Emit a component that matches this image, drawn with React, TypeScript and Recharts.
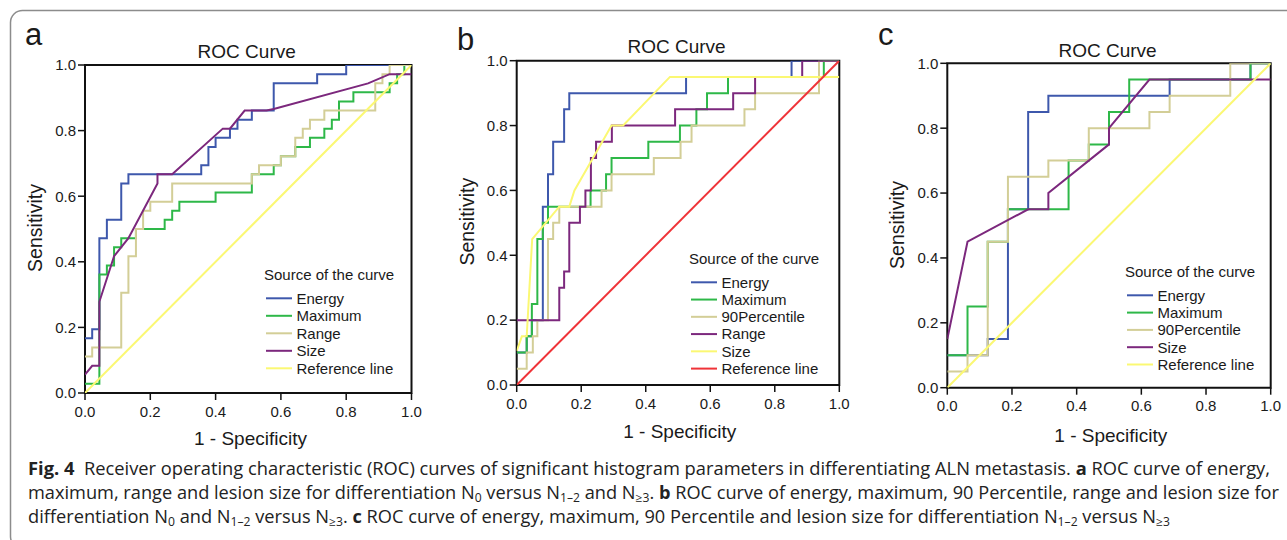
import React from 'react';
import { LineChart, Line, XAxis, YAxis, ReferenceArea, Legend } from 'recharts';

type P = [number, number][];

// ---------- Panel a ----------
const aEnergy: P = [[0,0.167],[0.022,0.167],[0.022,0.194],[0.044,0.194],[0.044,0.472],[0.067,0.472],[0.067,0.528],[0.111,0.528],[0.111,0.639],[0.133,0.639],[0.133,0.667],[0.356,0.667],[0.356,0.694],[0.378,0.694],[0.378,0.75],[0.4,0.75],[0.4,0.778],[0.444,0.778],[0.444,0.806],[0.467,0.806],[0.467,0.833],[0.511,0.833],[0.511,0.861],[0.578,0.861],[0.578,0.944],[0.711,0.944],[0.711,0.972],[0.8,0.972],[0.8,1],[1,1]];
const aMaximum: P = [[0,0.028],[0.044,0.028],[0.044,0.361],[0.067,0.361],[0.067,0.389],[0.089,0.389],[0.089,0.444],[0.111,0.444],[0.111,0.472],[0.156,0.472],[0.156,0.5],[0.244,0.5],[0.244,0.528],[0.267,0.528],[0.267,0.556],[0.289,0.556],[0.289,0.583],[0.4,0.583],[0.4,0.611],[0.511,0.611],[0.511,0.667],[0.578,0.667],[0.578,0.694],[0.6,0.694],[0.6,0.722],[0.644,0.722],[0.644,0.75],[0.689,0.75],[0.689,0.778],[0.733,0.778],[0.733,0.806],[0.756,0.806],[0.756,0.833],[0.778,0.833],[0.778,0.889],[0.822,0.889],[0.822,0.917],[0.933,0.917],[0.933,0.944],[0.956,0.944],[0.956,0.972],[0.978,0.972],[0.978,1],[1,1]];
const aRange: P = [[0,0.111],[0.022,0.111],[0.022,0.139],[0.111,0.139],[0.111,0.306],[0.133,0.306],[0.133,0.417],[0.156,0.417],[0.156,0.5],[0.178,0.5],[0.178,0.556],[0.2,0.556],[0.2,0.583],[0.267,0.583],[0.267,0.639],[0.511,0.639],[0.511,0.667],[0.533,0.667],[0.533,0.694],[0.6,0.694],[0.6,0.722],[0.644,0.722],[0.644,0.778],[0.667,0.778],[0.667,0.806],[0.689,0.806],[0.689,0.833],[0.733,0.833],[0.733,0.861],[0.889,0.861],[0.889,0.944],[0.911,0.944],[0.911,0.972],[0.933,0.972],[0.933,1],[1,1]];
const aSize: P = [[0,0.056],[0.022,0.083],[0.044,0.083],[0.044,0.278],[0.089,0.417],[0.133,0.472],[0.222,0.639],[0.222,0.667],[0.267,0.667],[0.422,0.806],[0.444,0.806],[0.489,0.861],[0.556,0.861],[0.578,0.866],[0.867,0.944],[0.933,0.972],[1,0.972]];
const aReference: P = [[0,0],[1,1]];

// ---------- Panel b ----------
const bEnergy: P = [[0,0.1],[0.031,0.1],[0.031,0.15],[0.047,0.15],[0.047,0.2],[0.081,0.2],[0.081,0.55],[0.097,0.55],[0.097,0.65],[0.113,0.65],[0.113,0.75],[0.147,0.75],[0.147,0.85],[0.163,0.85],[0.163,0.9],[0.525,0.9],[0.525,0.95],[0.852,0.95],[0.852,1],[1,1]];
const bMaximum: P = [[0,0.1],[0.031,0.1],[0.031,0.15],[0.047,0.15],[0.047,0.25],[0.064,0.25],[0.064,0.45],[0.081,0.45],[0.081,0.5],[0.097,0.5],[0.097,0.55],[0.229,0.55],[0.229,0.6],[0.277,0.6],[0.277,0.65],[0.294,0.65],[0.294,0.7],[0.408,0.7],[0.408,0.75],[0.506,0.75],[0.506,0.8],[0.557,0.8],[0.557,0.85],[0.59,0.85],[0.59,0.9],[0.655,0.9],[0.655,0.95],[0.952,0.95],[0.952,1],[1,1]];
const b90Percentile: P = [[0,0.05],[0.031,0.05],[0.031,0.1],[0.05,0.1],[0.05,0.15],[0.064,0.15],[0.064,0.2],[0.097,0.2],[0.097,0.45],[0.113,0.45],[0.113,0.5],[0.132,0.5],[0.132,0.55],[0.263,0.55],[0.263,0.6],[0.294,0.6],[0.294,0.65],[0.425,0.65],[0.425,0.7],[0.508,0.7],[0.508,0.75],[0.542,0.75],[0.542,0.8],[0.706,0.8],[0.706,0.85],[0.739,0.85],[0.739,0.9],[0.937,0.9],[0.937,1],[1,1]];
const bRange: P = [[0,0.2],[0.132,0.2],[0.132,0.3],[0.147,0.3],[0.147,0.35],[0.163,0.35],[0.163,0.5],[0.196,0.5],[0.196,0.55],[0.213,0.55],[0.213,0.6],[0.23,0.6],[0.23,0.7],[0.246,0.7],[0.246,0.75],[0.295,0.75],[0.295,0.8],[0.491,0.8],[0.491,0.85],[0.671,0.85],[0.671,0.9],[0.739,0.9],[0.739,0.95],[0.885,0.95],[0.885,1],[1,1]];
const bSize: P = [[0,0.105],[0.016,0.15],[0.031,0.15],[0.048,0.45],[0.132,0.55],[0.163,0.55],[0.179,0.6],[0.294,0.8],[0.33,0.8],[0.475,0.95],[1,0.95]];
const bReference: P = [[0,0],[1,1]];

// ---------- Panel c ----------
const cEnergy: P = [[0,0.1],[0.125,0.1],[0.125,0.15],[0.1875,0.15],[0.1875,0.55],[0.25,0.55],[0.25,0.85],[0.3125,0.85],[0.3125,0.9],[0.6875,0.9],[0.6875,0.95],[0.9375,0.95],[0.9375,1],[1,1]];
const cMaximum: P = [[0,0.1],[0.0625,0.1],[0.0625,0.25],[0.125,0.25],[0.125,0.45],[0.1875,0.45],[0.1875,0.55],[0.375,0.55],[0.375,0.7],[0.4375,0.7],[0.4375,0.75],[0.5,0.75],[0.5,0.85],[0.5625,0.85],[0.5625,0.95],[0.9375,0.95],[0.9375,1],[1,1]];
const c90Percentile: P = [[0,0.05],[0.0625,0.05],[0.0625,0.1],[0.125,0.1],[0.125,0.45],[0.1875,0.45],[0.1875,0.65],[0.3125,0.65],[0.3125,0.7],[0.4375,0.7],[0.4375,0.8],[0.625,0.8],[0.625,0.85],[0.6875,0.85],[0.6875,0.9],[0.875,0.9],[0.875,1],[1,1]];
const cSize: P = [[0,0.15],[0.0625,0.45],[0.25,0.55],[0.3125,0.55],[0.3125,0.6],[0.5,0.75],[0.5,0.8],[0.625,0.95],[1,0.95]];
const cReference: P = [[0,0],[1,1]];

const axisTicks = [0, 0.2, 0.4, 0.6, 0.8, 1.0];

const C = {
  blue: '#3E58AC',
  green: '#2EB848',
  tan: '#D3CE97',
  purple: '#7C287D',
  yellow: '#FBF873',
  red: '#EF3338',
};

type Series = { name: string; color: string; points: P };

const seriesA: Series[] = [
  { name: 'Energy', color: C.blue, points: aEnergy },
  { name: 'Maximum', color: C.green, points: aMaximum },
  { name: 'Range', color: C.tan, points: aRange },
  { name: 'Size', color: C.purple, points: aSize },
  { name: 'Reference line', color: C.yellow, points: aReference },
];
const seriesB: Series[] = [
  { name: 'Energy', color: C.blue, points: bEnergy },
  { name: 'Maximum', color: C.green, points: bMaximum },
  { name: '90Percentile', color: C.tan, points: b90Percentile },
  { name: 'Range', color: C.purple, points: bRange },
  { name: 'Size', color: C.yellow, points: bSize },
  { name: 'Reference line', color: C.red, points: bReference },
];
const seriesC: Series[] = [
  { name: 'Energy', color: C.blue, points: cEnergy },
  { name: 'Maximum', color: C.green, points: cMaximum },
  { name: '90Percentile', color: C.tan, points: c90Percentile },
  { name: 'Size', color: C.purple, points: cSize },
  { name: 'Reference line', color: C.yellow, points: cReference },
];

const FONT = "'Liberation Sans', Arial, Helvetica, sans-serif";
const TXT = '#1a1a1a';

function LegendBox({ items, spacing }: { items: Series[]; spacing: number }) {
  return (
    <svg width={180} height={130} style={{ display: 'block', overflow: 'visible' }}>
      <text x={4} y={18} fontSize={15} fontFamily={FONT} fill={TXT}>Source of the curve</text>
      {items.map((it, i) => {
        const y = 36.3 + i * spacing;
        return (
          <g key={it.name}>
            <line x1={6} x2={32} y1={y} y2={y} stroke={it.color} strokeWidth={2} />
            <text x={36.5} y={y + 5.3} fontSize={15} fontFamily={FONT} fill={TXT}>{it.name}</text>
          </g>
        );
      })}
    </svg>
  );
}

type PanelProps = {
  left: number;
  width: number;
  height: number;
  margin: { top: number; right: number; bottom: number; left: number };
  series: Series[];
  legendLeft: number;
  legendTop: number;
  legendSpacing: number;
};

function Panel(p: PanelProps) {
  const tickStyle = { fontSize: 15, fontFamily: FONT, fill: TXT };
  return (
    <div style={{ position: 'absolute', left: p.left, top: 0 }}>
      <LineChart width={p.width} height={p.height} margin={p.margin}>
        <XAxis
          dataKey="x"
          type="number"
          domain={[0, 1]}
          ticks={axisTicks}
          interval={0}
          tickFormatter={(v: number) => v.toFixed(1)}
          tick={tickStyle}
          tickSize={7}
          tickMargin={6}
          tickLine={{ stroke: '#111', strokeWidth: 1.5 }}
          axisLine={false}
          height={30}
          allowDataOverflow
        />
        <YAxis
          dataKey="y"
          type="number"
          domain={[0, 1]}
          ticks={axisTicks}
          interval={0}
          tickFormatter={(v: number) => v.toFixed(1)}
          tick={tickStyle}
          tickSize={7}
          tickMargin={2}
          tickLine={{ stroke: '#111', strokeWidth: 1.5 }}
          axisLine={false}
          width={50}
          allowDataOverflow
        />
        {p.series.map((s) => (
          <Line
            key={s.name}
            name={s.name}
            data={s.points.map(([x, y]) => ({ x, y }))}
            dataKey="y"
            type="linear"
            stroke={s.color}
            strokeWidth={2}
            dot={false}
            activeDot={false}
            isAnimationActive={false}
          />
        ))}
        <ReferenceArea x1={0} x2={1} y1={0} y2={1} fill="none" fillOpacity={0} stroke="#111" strokeWidth={2} ifOverflow="visible" />
        <Legend
          layout="vertical"
          align="center"
          verticalAlign="middle"
          wrapperStyle={{ left: p.legendLeft, top: p.legendTop, width: 180, height: 130 }}
          content={() => <LegendBox items={p.series} spacing={p.legendSpacing} />}
        />
      </LineChart>
    </div>
  );
}

type Seg = { t: string; b?: boolean; sub?: boolean };
const caption1: Seg[] = [
  { t: 'Fig. 4', b: true },
  { t: '\u00a0 Receiver operating characteristic (ROC) curves of significant histogram parameters in differentiating ALN metastasis. ' },
  { t: 'a', b: true },
  { t: ' ROC curve of energy,' },
];
const caption2: Seg[] = [
  { t: 'maximum, range and lesion size for differentiation N' },
  { t: '0', sub: true },
  { t: ' versus N' },
  { t: '1\u20132', sub: true },
  { t: ' and N' },
  { t: '\u22653', sub: true },
  { t: '. ' },
  { t: 'b', b: true },
  { t: ' ROC curve of energy, maximum, 90 Percentile, range and lesion size for' },
];
const caption3: Seg[] = [
  { t: 'differentiation N' },
  { t: '0', sub: true },
  { t: ' and N' },
  { t: '1\u20132', sub: true },
  { t: ' versus N' },
  { t: '\u22653', sub: true },
  { t: '. ' },
  { t: 'c', b: true },
  { t: ' ROC curve of energy, maximum, 90 Percentile and lesion size for differentiation N' },
  { t: '1\u20132', sub: true },
  { t: ' versus N' },
  { t: '\u22653', sub: true },
];

function CaptionLine({ segs, y, len }: { segs: Seg[]; y: number; len: number }) {
  const out: React.ReactNode[] = [];
  let shifted = false;
  segs.forEach((s, i) => {
    let dy = 0;
    if (s.sub && !shifted) { dy = 3; shifted = true; }
    else if (!s.sub && shifted) { dy = -3; shifted = false; }
    out.push(
      <tspan key={i} dy={dy || undefined} fontWeight={s.b ? 700 : 400} fontSize={s.sub ? 12 : 18}>{s.t}</tspan>
    );
  });
  return (
    <text x={28} y={y} textLength={len} lengthAdjust="spacingAndGlyphs" fontFamily="'Open Sans', 'Noto Sans', sans-serif" fill="#222">
      {out}
    </text>
  );
}

function Overlay() {
  const t = { fontFamily: FONT, fill: TXT };
  return (
    <svg width={1287} height={540} style={{ position: 'absolute', left: 0, top: 0 }}>
      <rect x={10.5} y={10.5} width={1400} height={538} rx={12} ry={12} fill="#fff" stroke="#8c8c8c" strokeWidth={1.5} />
      <text x={25} y={45} fontSize={31} {...t}>a</text>
      <text x={457} y={50} fontSize={31} {...t}>b</text>
      <text x={878} y={45} fontSize={31} {...t}>c</text>

      <text x={246.7} y={58} fontSize={19} textAnchor="middle" {...t}>ROC Curve</text>
      <text x={676.5} y={53} fontSize={19} textAnchor="middle" {...t}>ROC Curve</text>
      <text x={1107.5} y={56.7} fontSize={19} textAnchor="middle" {...t}>ROC Curve</text>

      <text x={250.5} y={445} fontSize={19} textAnchor="middle" {...t}>1 - Specificity</text>
      <text x={679.7} y={438} fontSize={19} textAnchor="middle" {...t}>1 - Specificity</text>
      <text x={1110.8} y={441.5} fontSize={19} textAnchor="middle" {...t}>1 - Specificity</text>

      <text transform="translate(42,228) rotate(-90)" fontSize={19.5} textAnchor="middle" {...t}>Sensitivity</text>
      <text transform="translate(473.5,221.7) rotate(-90)" fontSize={19.5} textAnchor="middle" {...t}>Sensitivity</text>
      <text transform="translate(904,225) rotate(-90)" fontSize={19.5} textAnchor="middle" {...t}>Sensitivity</text>

      <CaptionLine segs={caption1} y={475} len={1242} />
      <CaptionLine segs={caption2} y={499} len={1251} />
      <CaptionLine segs={caption3} y={523} len={1142} />
    </svg>
  );
}

export default function App() {
  return (
    <div style={{ position: 'absolute', left: 0, top: 0, width: 1287, height: 540, overflow: 'hidden', background: '#fff' }}>
      <Overlay />
      <Panel
        left={0}
        width={430}
        height={460}
        margin={{ top: 65, right: 18.5, bottom: 37, left: 35 }}
        series={seriesA}
        legendLeft={260}
        legendTop={262}
        legendSpacing={17.5}
      />
      <Panel
        left={430}
        width={430}
        height={460}
        margin={{ top: 60.7, right: 20.7, bottom: 45, left: 36.7 }}
        series={seriesB}
        legendLeft={255}
        legendTop={246.3}
        legendSpacing={17.26}
      />
      <Panel
        left={860}
        width={427}
        height={460}
        margin={{ top: 63.3, right: 16.3, bottom: 42.3, left: 37.3 }}
        series={seriesC}
        legendLeft={261}
        legendTop={258.7}
        legendSpacing={17.3}
      />
    </div>
  );
}
